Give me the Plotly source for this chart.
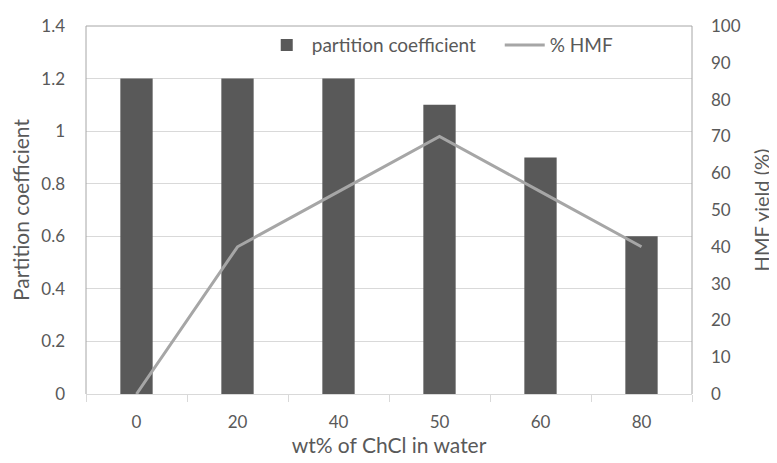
import plotly.graph_objects as go

categories = ["0", "20", "40", "50", "60", "80"]
partition_coefficient = [1.2, 1.2, 1.2, 1.1, 0.9, 0.6]
hmf_yield = [0, 40, 55, 70, 55, 40]

txt = "#595959"
font_family = "Lato"

fig = go.Figure()
fig.add_trace(go.Bar(
    x=categories, y=partition_coefficient, name="partition coefficient",
    marker=dict(color="#595959", line=dict(width=0)), yaxis="y",
))
fig.add_trace(go.Scatter(
    x=categories, y=hmf_yield, name="% HMF", mode="lines",
    line=dict(color="#a6a6a6", width=3), yaxis="y2",
))

fig.update_layout(
    width=769, height=455,
    margin=dict(l=78, r=85, t=18, b=69, autoexpand=False),
    paper_bgcolor="white", plot_bgcolor="white",
    font=dict(family=font_family, size=17, color=txt),
    bargap=0.68,
    showlegend=True,
    legend=dict(orientation="h", x=0.29, y=0.948, xanchor="left", yanchor="middle",
                bgcolor="rgba(0,0,0,0)", font=dict(size=19, color=txt),
                itemwidth=40, entrywidth=183, traceorder="normal"),
    xaxis=dict(
        type="category", showgrid=False, showline=True, linecolor="#d9d9d9", linewidth=1,
        ticks="outside", tickson="boundaries", ticklen=7, tickcolor="#d9d9d9",
        ticklabelstandoff=13, automargin=False,
        title=dict(text="wt% of ChCl in water", font=dict(size=21, color=txt), standoff=4),
        tickfont=dict(size=17, color=txt),
    ),
    yaxis=dict(
        range=[0, 1.4], dtick=0.2, showgrid=True, gridcolor="#d9d9d9", gridwidth=1,
        zeroline=False, showline=False, automargin=False,
        title=dict(text="Partition coefficient", font=dict(size=21, color=txt), standoff=6),
        tickfont=dict(size=17, color=txt), ticks="", ticklabelstandoff=20,
    ),
    yaxis2=dict(
        range=[0, 100], dtick=10, overlaying="y", side="right", showgrid=False,
        zeroline=False, showline=False, automargin=False,
        title=dict(text="HMF yield (%)", font=dict(size=20, color=txt), standoff=15),
        tickfont=dict(size=17, color=txt), ticks="", ticklabelstandoff=18,
    ),
    shapes=[dict(type="path", xref="paper", yref="paper",
                 path="M 0,0 L 0,1 L 1,1 L 1,0",
                 line=dict(color="#a6a6a6", width=1), layer="above")],
)

fig.write_html("out.html")
